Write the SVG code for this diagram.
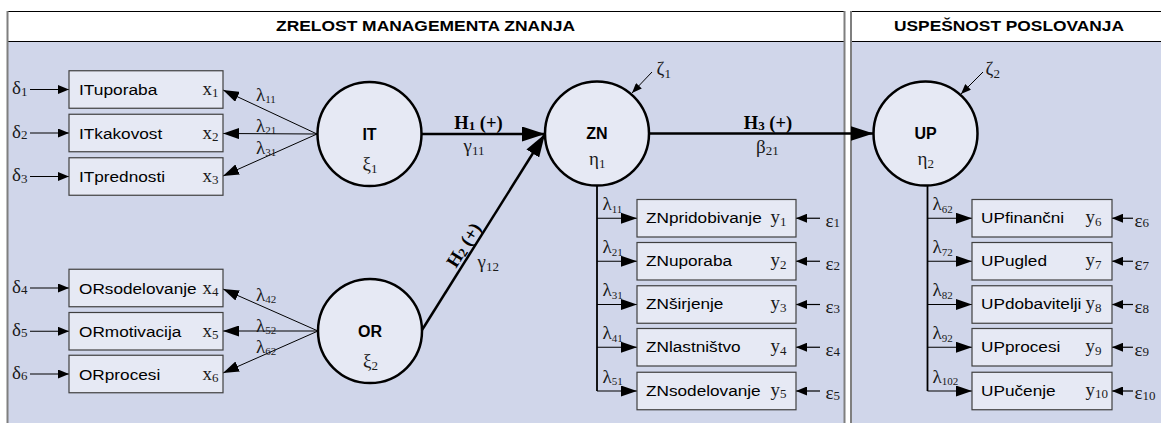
<svg xmlns="http://www.w3.org/2000/svg" width="1161" height="423" viewBox="0 0 1161 423">
  <defs>
    <style>
      .panel{fill:#d0d6ea}
      .head{fill:#ffffff}
      .edge{stroke:#7f7f7f;stroke-width:2;fill:none}
      .rule{stroke:#000;stroke-width:1;fill:none}
      .title{font-family:"Liberation Sans",Arial,sans-serif;font-weight:bold;font-size:15.5px;fill:#000}
      .box{fill:#e6e9f4;stroke:#404040;stroke-width:1.2}
      .lbl{font-family:"Liberation Sans",Arial,sans-serif;font-size:15.5px;fill:#000}
      .lat{fill:#e6e9f4;stroke:#000;stroke-width:2.5}
      .latname{font-family:"Liberation Sans",Arial,sans-serif;font-weight:bold;font-size:16px;fill:#000;text-anchor:middle}
      .g{font-family:"Liberation Serif","Times New Roman",serif;font-size:19px;fill:#1a1a1a}
      .s{font-size:13px}
      .ls{font-size:11px}
      .h{font-family:"Liberation Serif","Times New Roman",serif;font-weight:bold;font-size:18.5px;fill:#000}
      .hs{font-size:13px}
      .hpath{stroke:#000;stroke-width:2.5;fill:none}
      .load{stroke:#000;stroke-width:1;fill:none}
      .stem{stroke:#000;stroke-width:1.8;fill:none}
      .twig{stroke:#000;stroke-width:1.2;fill:none}
      .err{stroke:#000;stroke-width:1.2;fill:none}
    </style>
    <marker id="bigHead" markerUnits="userSpaceOnUse" markerWidth="23" markerHeight="15" refX="23" refY="7.5" orient="auto">
      <path d="M0,0 L23,7.5 L0,15 z" fill="#000"/>
    </marker>
    <marker id="loadHead" markerUnits="userSpaceOnUse" markerWidth="16" markerHeight="11" refX="16" refY="5.5" orient="auto">
      <path d="M0,0 L16,5.5 L0,11 z" fill="#000"/>
    </marker>
    <marker id="errHead" markerUnits="userSpaceOnUse" markerWidth="11" markerHeight="9" refX="11" refY="4.5" orient="auto">
      <path d="M0,0 L11,4.5 L0,9 z" fill="#000"/>
    </marker>
    <marker id="zetaHead" markerUnits="userSpaceOnUse" markerWidth="10" markerHeight="8" refX="10" refY="4" orient="auto">
      <path d="M0,0 L10,4 L0,8 z" fill="#000"/>
    </marker>
  </defs>

  <!-- swimlane panels -->
  <g id="lane-zrelost">
    <rect class="panel" x="7.5" y="11.5" width="837" height="420"/>
    <rect class="head" x="7.5" y="11.5" width="837" height="30"/>
    <path class="rule" d="M7,11.5 H845 M7,41.5 H845"/>
    <path class="edge" d="M7.5,11 V423 M844.5,11 V423"/>
    <text class="title" x="276" y="31" textLength="299" lengthAdjust="spacingAndGlyphs">ZRELOST MANAGEMENTA ZNANJA</text>
  </g>
  <g id="lane-uspesnost">
    <rect class="panel" x="851" y="11.5" width="320" height="420"/>
    <rect class="head" x="851" y="11.5" width="320" height="30"/>
    <path class="rule" d="M851,11.5 H1161 M851,41.5 H1161"/>
    <path class="edge" d="M851,11 V423"/>
    <text class="title" x="894" y="31" textLength="230" lengthAdjust="spacingAndGlyphs">USPEŠNOST POSLOVANJA</text>
  </g>

  <!-- connectors -->
  <g id="connectors">
    <!-- IT loadings -->
    <path class="load" d="M317,134 L223,90" marker-end="url(#loadHead)"/>
    <path class="load" d="M317,134 L223,133.5" marker-end="url(#loadHead)"/>
    <path class="load" d="M317,134 L223,176" marker-end="url(#loadHead)"/>
    <!-- OR loadings -->
    <path class="load" d="M318,331 L223,289" marker-end="url(#loadHead)"/>
    <path class="load" d="M318,331 L223,331" marker-end="url(#loadHead)"/>
    <path class="load" d="M318,331 L223,373" marker-end="url(#loadHead)"/>
    <!-- delta errors -->
    <path class="err" d="M30,89.5 H69" marker-end="url(#errHead)"/>
    <path class="err" d="M30,133 H69" marker-end="url(#errHead)"/>
    <path class="err" d="M30,176.5 H69" marker-end="url(#errHead)"/>
    <path class="err" d="M30,288 H69" marker-end="url(#errHead)"/>
    <path class="err" d="M30,331.25 H69" marker-end="url(#errHead)"/>
    <path class="err" d="M30,374 H69" marker-end="url(#errHead)"/>
    <!-- structural paths -->
    <path class="hpath" d="M422,134 L545,134" marker-end="url(#bigHead)"/>
    <path class="hpath" d="M422,330 L545,134" marker-end="url(#bigHead)"/>
    <path class="hpath" d="M649,133.5 L873.5,133.5" marker-end="url(#bigHead)"/>
    <!-- disturbances -->
    <path class="load" d="M652,72 L632,93" marker-end="url(#zetaHead)"/>
    <path class="load" d="M983,72 L961,94" marker-end="url(#zetaHead)"/>
    <!-- ZN indicators -->
    <path class="stem" d="M597,185.5 V391"/>
    <path class="twig" d="M597,218.25 H637" marker-end="url(#loadHead)"/>
    <path class="twig" d="M597,261.25 H637" marker-end="url(#loadHead)"/>
    <path class="twig" d="M597,304.5 H637" marker-end="url(#loadHead)"/>
    <path class="twig" d="M597,347.25 H637" marker-end="url(#loadHead)"/>
    <path class="twig" d="M597,391 H637" marker-end="url(#loadHead)"/>
    <path class="err" d="M820,218.25 H796" marker-end="url(#errHead)"/>
    <path class="err" d="M820,261.25 H796" marker-end="url(#errHead)"/>
    <path class="err" d="M820,304.5 H796" marker-end="url(#errHead)"/>
    <path class="err" d="M820,347.25 H796" marker-end="url(#errHead)"/>
    <path class="err" d="M820,391 H796" marker-end="url(#errHead)"/>
    <!-- UP indicators -->
    <path class="stem" d="M927.5,185.5 V391"/>
    <path class="twig" d="M927.5,218.25 H972" marker-end="url(#loadHead)"/>
    <path class="twig" d="M927.5,261.25 H972" marker-end="url(#loadHead)"/>
    <path class="twig" d="M927.5,304.5 H972" marker-end="url(#loadHead)"/>
    <path class="twig" d="M927.5,347.25 H972" marker-end="url(#loadHead)"/>
    <path class="twig" d="M927.5,391 H972" marker-end="url(#loadHead)"/>
    <path class="err" d="M1133,218.25 H1112" marker-end="url(#errHead)"/>
    <path class="err" d="M1133,261.25 H1112" marker-end="url(#errHead)"/>
    <path class="err" d="M1133,304.5 H1112" marker-end="url(#errHead)"/>
    <path class="err" d="M1133,347.25 H1112" marker-end="url(#errHead)"/>
    <path class="err" d="M1133,391 H1112" marker-end="url(#errHead)"/>

    <!-- connector labels -->
    <text class="g" x="12" y="94">δ<tspan class="s" dy="1.5">1</tspan></text>
    <text class="g" x="12" y="137.5">δ<tspan class="s" dy="1.5">2</tspan></text>
    <text class="g" x="12" y="181">δ<tspan class="s" dy="1.5">3</tspan></text>
    <text class="g" x="12" y="292.5">δ<tspan class="s" dy="1.5">4</tspan></text>
    <text class="g" x="12" y="335.75">δ<tspan class="s" dy="1.5">5</tspan></text>
    <text class="g" x="12" y="378.5">δ<tspan class="s" dy="1.5">6</tspan></text>

    <text class="g" x="256" y="100.5">λ<tspan class="ls" dy="2.5">11</tspan></text>
    <text class="g" x="256" y="131.5">λ<tspan class="ls" dy="2.5">21</tspan></text>
    <text class="g" x="256" y="153.5">λ<tspan class="ls" dy="2.5">31</tspan></text>
    <text class="g" x="256" y="300.5">λ<tspan class="ls" dy="2.5">42</tspan></text>
    <text class="g" x="256" y="331.5">λ<tspan class="ls" dy="2.5">52</tspan></text>
    <text class="g" x="256" y="352.5">λ<tspan class="ls" dy="2.5">62</tspan></text>

    <text class="h" x="478.5" y="128.5" text-anchor="middle">H<tspan class="hs" dy="1.5">1</tspan><tspan dy="-1.5"> (+)</tspan></text>
    <text class="g" x="463.5" y="152">γ<tspan class="s" dy="3">11</tspan></text>
    <text class="h" transform="translate(469,248.4) rotate(-57.6)" text-anchor="middle">H<tspan class="hs" dy="1.5">2</tspan><tspan dy="-1.5"> (+)</tspan></text>
    <text class="g" x="477.5" y="267.5">γ<tspan class="s" dy="3">12</tspan></text>
    <text class="h" x="768" y="128.5" text-anchor="middle">H<tspan class="hs" dy="1.5">3</tspan><tspan dy="-1.5"> (+)</tspan></text>
    <text class="g" x="756" y="152.5">β<tspan class="s" dy="2.5">21</tspan></text>

    <text class="g" x="656.5" y="75">ζ<tspan class="s" dy="3">1</tspan></text>
    <text class="g" x="985.5" y="75">ζ<tspan class="s" dy="3">2</tspan></text>

    <text class="g" x="602.5" y="210">λ<tspan class="ls" dy="2.5">11</tspan></text>
    <text class="g" x="602.5" y="253">λ<tspan class="ls" dy="2.5">21</tspan></text>
    <text class="g" x="602.5" y="296.25">λ<tspan class="ls" dy="2.5">31</tspan></text>
    <text class="g" x="602.5" y="339">λ<tspan class="ls" dy="2.5">41</tspan></text>
    <text class="g" x="602.5" y="382.75">λ<tspan class="ls" dy="2.5">51</tspan></text>

    <text class="g" x="932.5" y="210">λ<tspan class="ls" dy="2.5">62</tspan></text>
    <text class="g" x="932.5" y="253">λ<tspan class="ls" dy="2.5">72</tspan></text>
    <text class="g" x="932.5" y="296.25">λ<tspan class="ls" dy="2.5">82</tspan></text>
    <text class="g" x="932.5" y="339">λ<tspan class="ls" dy="2.5">92</tspan></text>
    <text class="g" x="932.5" y="382.75">λ<tspan class="ls" dy="2.5">102</tspan></text>

    <text class="g" x="825.5" y="226.5">ε<tspan class="s" dy="0.5">1</tspan></text>
    <text class="g" x="825.5" y="269.5">ε<tspan class="s" dy="0.5">2</tspan></text>
    <text class="g" x="825.5" y="312.75">ε<tspan class="s" dy="0.5">3</tspan></text>
    <text class="g" x="825.5" y="355.5">ε<tspan class="s" dy="0.5">4</tspan></text>
    <text class="g" x="825.5" y="399.25">ε<tspan class="s" dy="0.5">5</tspan></text>
    <text class="g" x="1134.5" y="226.5">ε<tspan class="s" dy="0.5">6</tspan></text>
    <text class="g" x="1134.5" y="269.5">ε<tspan class="s" dy="0.5">7</tspan></text>
    <text class="g" x="1134.5" y="312.75">ε<tspan class="s" dy="0.5">8</tspan></text>
    <text class="g" x="1134.5" y="355.5">ε<tspan class="s" dy="0.5">9</tspan></text>
    <text class="g" x="1134.5" y="399.25">ε<tspan class="s" dy="0.5">10</tspan></text>
  </g>

  <!-- latent constructs -->
  <g id="node-IT">
    <circle class="lat" cx="369.5" cy="134" r="52"/>
    <text class="latname" x="369.5" y="139.5">IT</text>
    <text class="g" x="362.5" y="170">ξ<tspan class="s" dy="3">1</tspan></text>
  </g>
  <g id="node-OR">
    <circle class="lat" cx="370" cy="331" r="52"/>
    <text class="latname" x="370" y="336.5">OR</text>
    <text class="g" x="363" y="367">ξ<tspan class="s" dy="3">2</tspan></text>
  </g>
  <g id="node-ZN">
    <circle class="lat" cx="597" cy="133.5" r="52"/>
    <text class="latname" x="597" y="139.3">ZN</text>
    <text class="g" x="589" y="165">η<tspan class="s" dy="3">1</tspan></text>
  </g>
  <g id="node-UP">
    <circle class="lat" cx="925.5" cy="133.5" r="52"/>
    <text class="latname" x="925.5" y="139.3">UP</text>
    <text class="g" x="917.5" y="165">η<tspan class="s" dy="3">2</tspan></text>
  </g>

  <!-- IT indicators -->
  <g id="node-ITuporaba">
    <rect class="box" x="69" y="70.75" width="154" height="37.5"/>
    <text class="lbl" x="79" y="95" textLength="78.4" lengthAdjust="spacingAndGlyphs">ITuporaba</text>
    <text class="g" x="202.5" y="95">x<tspan class="s" dy="2">1</tspan></text>
  </g>
  <g id="node-ITkakovost">
    <rect class="box" x="69" y="114.25" width="154" height="37.5"/>
    <text class="lbl" x="79" y="138.5" textLength="83.2" lengthAdjust="spacingAndGlyphs">ITkakovost</text>
    <text class="g" x="202.5" y="138.5">x<tspan class="s" dy="2">2</tspan></text>
  </g>
  <g id="node-ITprednosti">
    <rect class="box" x="69" y="157.75" width="154" height="37.5"/>
    <text class="lbl" x="79" y="182" textLength="86" lengthAdjust="spacingAndGlyphs">ITprednosti</text>
    <text class="g" x="202.5" y="182">x<tspan class="s" dy="2">3</tspan></text>
  </g>

  <!-- OR indicators -->
  <g id="node-ORsodelovanje">
    <rect class="box" x="69" y="269.25" width="154" height="37.5"/>
    <text class="lbl" x="79" y="293.5" textLength="117.6" lengthAdjust="spacingAndGlyphs">ORsodelovanje</text>
    <text class="g" x="202.5" y="293.5">x<tspan class="s" dy="2">4</tspan></text>
  </g>
  <g id="node-ORmotivacija">
    <rect class="box" x="69" y="312.5" width="154" height="37.5"/>
    <text class="lbl" x="79" y="336.75" textLength="102.3" lengthAdjust="spacingAndGlyphs">ORmotivacija</text>
    <text class="g" x="202.5" y="336.75">x<tspan class="s" dy="2">5</tspan></text>
  </g>
  <g id="node-ORprocesi">
    <rect class="box" x="69" y="355.25" width="154" height="37.5"/>
    <text class="lbl" x="79" y="379.5" textLength="81.2" lengthAdjust="spacingAndGlyphs">ORprocesi</text>
    <text class="g" x="202.5" y="379.5">x<tspan class="s" dy="2">6</tspan></text>
  </g>

  <!-- ZN indicators -->
  <g id="node-ZNpridobivanje">
    <rect class="box" x="637" y="199.5" width="159" height="37.5"/>
    <text class="lbl" x="646" y="223" textLength="115.7" lengthAdjust="spacingAndGlyphs">ZNpridobivanje</text>
    <text class="g" x="770.5" y="223">y<tspan class="s" dy="2.5">1</tspan></text>
  </g>
  <g id="node-ZNuporaba">
    <rect class="box" x="637" y="242.5" width="159" height="37.5"/>
    <text class="lbl" x="646" y="266" textLength="86" lengthAdjust="spacingAndGlyphs">ZNuporaba</text>
    <text class="g" x="770.5" y="266">y<tspan class="s" dy="2.5">2</tspan></text>
  </g>
  <g id="node-ZNsirjenje">
    <rect class="box" x="637" y="285.75" width="159" height="37.5"/>
    <text class="lbl" x="646" y="309.25" textLength="77.4" lengthAdjust="spacingAndGlyphs">ZNširjenje</text>
    <text class="g" x="770.5" y="309.25">y<tspan class="s" dy="2.5">3</tspan></text>
  </g>
  <g id="node-ZNlastnistvo">
    <rect class="box" x="637" y="328.5" width="159" height="37.5"/>
    <text class="lbl" x="646" y="352" textLength="94.6" lengthAdjust="spacingAndGlyphs">ZNlastništvo</text>
    <text class="g" x="770.5" y="352">y<tspan class="s" dy="2.5">4</tspan></text>
  </g>
  <g id="node-ZNsodelovanje">
    <rect class="box" x="637" y="372.25" width="159" height="37.5"/>
    <text class="lbl" x="646" y="395.75" textLength="114.7" lengthAdjust="spacingAndGlyphs">ZNsodelovanje</text>
    <text class="g" x="770.5" y="395.75">y<tspan class="s" dy="2.5">5</tspan></text>
  </g>

  <!-- UP indicators -->
  <g id="node-UPfinancni">
    <rect class="box" x="972" y="199.5" width="140" height="37.5"/>
    <text class="lbl" x="981" y="223" textLength="83.2" lengthAdjust="spacingAndGlyphs">UPfinančni</text>
    <text class="g" x="1085.5" y="223">y<tspan class="s" dy="2.5">6</tspan></text>
  </g>
  <g id="node-UPugled">
    <rect class="box" x="972" y="242.5" width="140" height="37.5"/>
    <text class="lbl" x="981" y="266" textLength="66" lengthAdjust="spacingAndGlyphs">UPugled</text>
    <text class="g" x="1085.5" y="266">y<tspan class="s" dy="2.5">7</tspan></text>
  </g>
  <g id="node-UPdobavitelji">
    <rect class="box" x="972" y="285.75" width="140" height="37.5"/>
    <text class="lbl" x="981" y="309.25" textLength="100.4" lengthAdjust="spacingAndGlyphs">UPdobavitelji</text>
    <text class="g" x="1085.5" y="309.25">y<tspan class="s" dy="2.5">8</tspan></text>
  </g>
  <g id="node-UPprocesi">
    <rect class="box" x="972" y="328.5" width="140" height="37.5"/>
    <text class="lbl" x="981" y="352" textLength="79.3" lengthAdjust="spacingAndGlyphs">UPprocesi</text>
    <text class="g" x="1085.5" y="352">y<tspan class="s" dy="2.5">9</tspan></text>
  </g>
  <g id="node-UPucenje">
    <rect class="box" x="972" y="372.25" width="140" height="37.5"/>
    <text class="lbl" x="981" y="395.75" textLength="74.6" lengthAdjust="spacingAndGlyphs">UPučenje</text>
    <text class="g" x="1085.5" y="395.75">y<tspan class="s" dy="2.5">10</tspan></text>
  </g>
</svg>
